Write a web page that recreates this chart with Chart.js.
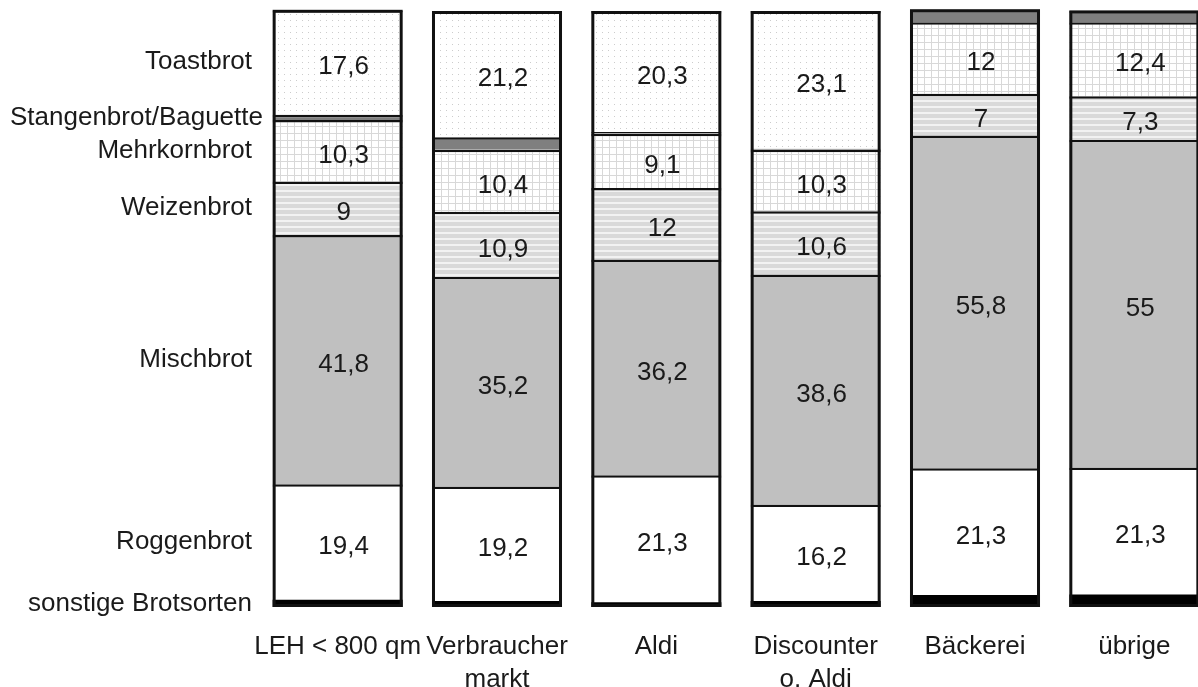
<!DOCTYPE html>
<html><head><meta charset="utf-8">
<script src="https://cdn.jsdelivr.net/npm/chart.js@4.4.0/dist/chart.umd.min.js"></script>
<style>
html,body{margin:0;padding:0;overflow:hidden;background:#fff;width:1198px;height:687px}
#wrap{position:absolute;left:0;top:0;width:1216px;height:687px}
</style>
</head><body>
<div id="wrap"><canvas id="c" width="1216" height="687" style="width:1216px;height:687px"></canvas></div>
<script>
// ---- data (bottom to top of each stack) ----
const categories = ['LEH < 800 qm', ['Verbraucher', 'markt'], 'Aldi', ['Discounter', 'o. Aldi'], 'Bäckerei', 'übrige'];
const seriesNames = ['sonstige Brotsorten', 'Roggenbrot', 'Mischbrot', 'Weizenbrot', 'Mehrkornbrot', 'Stangenbrot/Baguette', 'Toastbrot'];
const sonstige   = [1.2, 1.0, 0.8, 1.0, 2.0, 2.1];
const roggenbrot = [19.4, 19.2, 21.3, 16.2, 21.3, 21.3];
const mischbrot  = [41.8, 35.2, 36.2, 38.6, 55.8, 55.0];
const weizenbrot = [9, 10.9, 12, 10.6, 7, 7.3];
const mehrkorn   = [10.3, 10.4, 9.1, 10.3, 12, 12.4];
const stangen    = [0.9, 2.1, 0.3, 0.2, 2.2, 2.0];
const toastbrot  = [17.6, 21.2, 20.3, 23.1, null, null];
const labelledSeries = [false, true, true, true, true, false, true];

const FONT = '"Liberation Sans", Arial, sans-serif';

// ---- patterns ----
function tile(w, h, draw) {
  const c = document.createElement('canvas');
  c.width = w; c.height = h;
  const x = c.getContext('2d');
  draw(x);
  return document.getElementById('c').getContext('2d').createPattern(c, 'repeat');
}
const dotPattern = tile(6, 6, x => {
  x.fillStyle = '#fff'; x.fillRect(0, 0, 6, 6);
  x.fillStyle = '#cccccc'; x.fillRect(2, 2, 1, 1);
});
const gridPattern = tile(7, 7, x => {
  x.fillStyle = '#fff'; x.fillRect(0, 0, 7, 7);
  x.fillStyle = '#d8d8d8';
  x.fillRect(0, 0, 7, 1); x.fillRect(0, 0, 1, 7);
});
const stripePattern = tile(4, 6, x => {
  x.fillStyle = '#d9d9d9'; x.fillRect(0, 0, 4, 6);
  x.fillStyle = '#f2f2f2'; x.fillRect(0, 4, 4, 2);
});
const fills = ['#000000', '#ffffff', '#c0c0c0', stripePattern, gridPattern, '#7f7f7f', dotPattern];
const seriesData = [sonstige, roggenbrot, mischbrot, weizenbrot, mehrkorn, stangen, toastbrot];

const fmt = v => String(v).replace('.', ',');

const barPlugin = {
  id: 'barDeco',
  afterDatasetsDraw(chart) {
    const ctx = chart.ctx;
    const metas = chart.data.datasets.map((d, i) => chart.getDatasetMeta(i));
    // outer frame of each stack
    categories.forEach((c, j) => {
      let top = Infinity, bottom = -Infinity, left = 0, width = 0;
      metas.forEach((m, i) => {
        if (chart.data.datasets[i].data[j] == null) return;
        const b = m.data[j].getProps(['x', 'y', 'base', 'width'], true);
        top = Math.min(top, b.y); bottom = Math.max(bottom, b.base);
        left = b.x - b.width / 2; width = b.width;
      });
      ctx.save();
      ctx.strokeStyle = '#111';
      ctx.lineWidth = 3;
      ctx.strokeRect(left + 1.5, top + 1.5, width - 3, bottom - top - 3);
      ctx.restore();
    });
    // value labels
    ctx.save();
    ctx.font = '26px ' + FONT;
    ctx.fillStyle = '#1a1a1a';
    ctx.textAlign = 'center';
    ctx.textBaseline = 'middle';
    metas.forEach((m, i) => {
      if (!labelledSeries[i]) return;
      m.data.forEach((el, j) => {
        const v = chart.data.datasets[i].data[j];
        if (v == null) return;
        const b = el.getProps(['x', 'y', 'base'], true);
        ctx.fillText(fmt(v), b.x + 6, (b.y + b.base) / 2 + 5);
      });
    });
    ctx.restore();
    // series names beside the first stack
    const ys = chart.scales.y;
    ctx.save();
    ctx.font = '26px ' + FONT;
    ctx.fillStyle = '#1a1a1a';
    ctx.textAlign = 'left';
    ctx.textBaseline = 'middle';
    let cum = 0;
    seriesData.forEach((arr, i) => {
      const v = arr[0] || 0;
      const mid = cum + v / 2;
      cum += v;
      const w = ctx.measureText(seriesNames[i]).width;
      const right = Math.max(ys.right - 6, 10 + w);
      ctx.fillText(seriesNames[i], right - w, ys.getPixelForValue(mid));
    });
    ctx.restore();
  }
};

new Chart(document.getElementById('c'), {
  type: 'bar',
  data: {
    labels: categories,
    datasets: seriesNames.map((n, i) => ({
      label: n,
      data: seriesData[i],
      backgroundColor: fills[i],
      borderColor: '#111',
      borderWidth: i === 0 ? 0 : { top: 2.5, bottom: 0, left: 0, right: 0 },
      borderSkipped: false,
      barPercentage: 0.816,
      categoryPercentage: 1.0
    }))
  },
  options: {
    responsive: false,
    animation: false,
    layout: { padding: { top: 11, right: 2, left: 0, bottom: 0 } },
    plugins: { legend: { display: false }, tooltip: { enabled: false } },
    scales: {
      x: {
        stacked: true,
        grid: { display: false, drawTicks: false },
        border: { display: false },
        ticks: {
          color: '#1a1a1a',
          padding: 24,
          maxRotation: 0,
          autoSkip: false,
          font: { family: FONT, size: 26, lineHeight: 1.25 }
        },
        afterFit(s) { s.height = 80; }
      },
      y: {
        stacked: true,
        min: 0, max: 100,
        grid: { display: false, drawTicks: false },
        border: { display: false },
        ticks: { display: false },
        afterFit(s) { s.width = 258; }
      }
    }
  },
  plugins: [barPlugin]
});
</script>
</body></html>
